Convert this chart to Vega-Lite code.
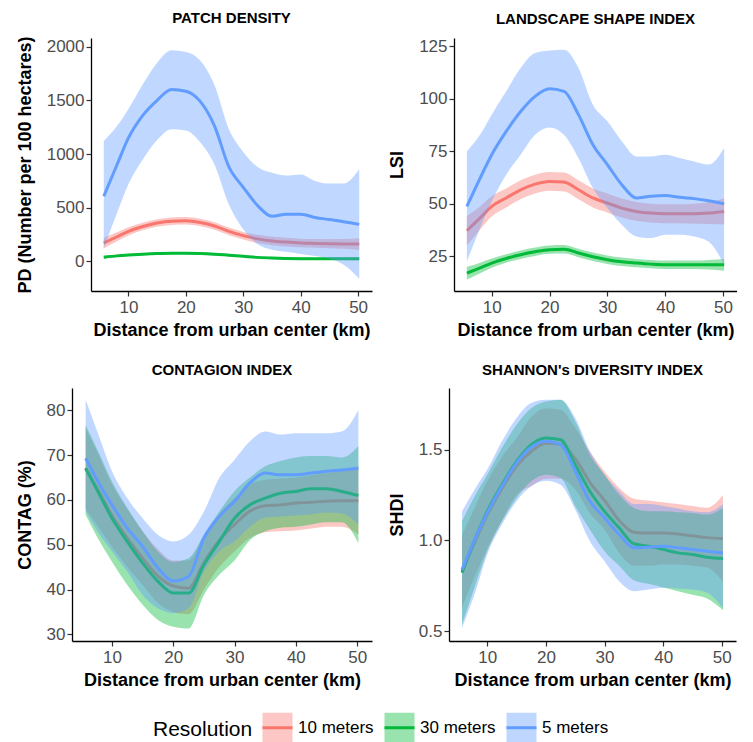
{
"$schema": "https://vega.github.io/schema/vega-lite/v6.json",
"padding": {"left": 0, "top": 10, "right": 0, "bottom": 0},
"config": {
 "view": {"stroke": null},
 "font": "Liberation Sans",
 "axis": {"grid": false, "domainColor": "#000000", "domainWidth": 1.3, "tickColor": "#333333", "tickSize": 5, "tickWidth": 1.2, "labelColor": "#4D4D4D", "labelFontSize": 17, "labelFont": "Liberation Sans", "titleFontSize": 18, "titleFontWeight": "bold", "titleColor": "#000000", "titleFont": "Liberation Sans"},
 "axisX": {"titlePadding": 6, "labelPadding": 3},
 "axisY": {"titlePadding": 12, "labelPadding": 2},
 "title": {"fontSize": 15, "fontWeight": "bold", "color": "#000000", "anchor": "middle", "frame": "group", "offset": 10, "font": "Liberation Sans"}
},
"data": {"values": [
{"p":"PD","r":"10 meters","x":5.7,"y":171,"lo":121,"hi":221},
{"p":"PD","r":"10 meters","x":8,"y":230,"lo":188,"hi":272},
{"p":"PD","r":"10 meters","x":10,"y":280,"lo":242,"hi":318},
{"p":"PD","r":"10 meters","x":12.5,"y":325,"lo":290,"hi":360},
{"p":"PD","r":"10 meters","x":15,"y":358,"lo":323,"hi":393},
{"p":"PD","r":"10 meters","x":17.5,"y":375,"lo":340,"hi":410},
{"p":"PD","r":"10 meters","x":20,"y":378,"lo":343,"hi":413},
{"p":"PD","r":"10 meters","x":22.5,"y":362,"lo":327,"hi":397},
{"p":"PD","r":"10 meters","x":25,"y":330,"lo":295,"hi":365},
{"p":"PD","r":"10 meters","x":27.5,"y":280,"lo":245,"hi":315},
{"p":"PD","r":"10 meters","x":30,"y":240,"lo":205,"hi":275},
{"p":"PD","r":"10 meters","x":32.5,"y":210,"lo":172,"hi":248},
{"p":"PD","r":"10 meters","x":35,"y":190,"lo":150,"hi":230},
{"p":"PD","r":"10 meters","x":37.5,"y":180,"lo":140,"hi":220},
{"p":"PD","r":"10 meters","x":40,"y":172,"lo":132,"hi":212},
{"p":"PD","r":"10 meters","x":42.5,"y":168,"lo":128,"hi":208},
{"p":"PD","r":"10 meters","x":45,"y":165,"lo":123,"hi":207},
{"p":"PD","r":"10 meters","x":47.5,"y":163,"lo":118,"hi":208},
{"p":"PD","r":"10 meters","x":50.2,"y":162,"lo":107,"hi":217},
{"p":"PD","r":"30 meters","x":5.7,"y":40,"lo":26,"hi":54},
{"p":"PD","r":"30 meters","x":8,"y":52,"lo":41,"hi":63},
{"p":"PD","r":"30 meters","x":10,"y":60,"lo":50,"hi":70},
{"p":"PD","r":"30 meters","x":12.5,"y":68,"lo":58,"hi":78},
{"p":"PD","r":"30 meters","x":15,"y":74,"lo":64,"hi":84},
{"p":"PD","r":"30 meters","x":17.5,"y":77,"lo":67,"hi":87},
{"p":"PD","r":"30 meters","x":20,"y":77,"lo":67,"hi":87},
{"p":"PD","r":"30 meters","x":22.5,"y":75,"lo":65,"hi":85},
{"p":"PD","r":"30 meters","x":25,"y":68,"lo":58,"hi":78},
{"p":"PD","r":"30 meters","x":27.5,"y":58,"lo":48,"hi":68},
{"p":"PD","r":"30 meters","x":30,"y":48,"lo":38,"hi":58},
{"p":"PD","r":"30 meters","x":32.5,"y":38,"lo":28,"hi":48},
{"p":"PD","r":"30 meters","x":35,"y":32,"lo":22,"hi":42},
{"p":"PD","r":"30 meters","x":37.5,"y":28,"lo":18,"hi":38},
{"p":"PD","r":"30 meters","x":40,"y":26,"lo":16,"hi":36},
{"p":"PD","r":"30 meters","x":42.5,"y":25,"lo":15,"hi":35},
{"p":"PD","r":"30 meters","x":45,"y":25,"lo":15,"hi":35},
{"p":"PD","r":"30 meters","x":47.5,"y":25,"lo":14,"hi":36},
{"p":"PD","r":"30 meters","x":50.2,"y":25,"lo":11,"hi":39},
{"p":"PD","r":"5 meters","x":5.7,"y":607,"lo":120,"hi":1120},
{"p":"PD","r":"5 meters","x":8,"y":900,"lo":450,"hi":1260},
{"p":"PD","r":"5 meters","x":10,"y":1150,"lo":720,"hi":1420},
{"p":"PD","r":"5 meters","x":12.5,"y":1360,"lo":950,"hi":1650},
{"p":"PD","r":"5 meters","x":15,"y":1500,"lo":1130,"hi":1850},
{"p":"PD","r":"5 meters","x":17.5,"y":1600,"lo":1230,"hi":1965},
{"p":"PD","r":"5 meters","x":20,"y":1585,"lo":1220,"hi":1950},
{"p":"PD","r":"5 meters","x":22.5,"y":1490,"lo":1110,"hi":1870},
{"p":"PD","r":"5 meters","x":25,"y":1260,"lo":900,"hi":1640},
{"p":"PD","r":"5 meters","x":27.5,"y":880,"lo":530,"hi":1230},
{"p":"PD","r":"5 meters","x":30,"y":690,"lo":300,"hi":1020},
{"p":"PD","r":"5 meters","x":32.5,"y":520,"lo":160,"hi":880},
{"p":"PD","r":"5 meters","x":35,"y":420,"lo":110,"hi":825},
{"p":"PD","r":"5 meters","x":37.5,"y":440,"lo":90,"hi":800},
{"p":"PD","r":"5 meters","x":40,"y":440,"lo":70,"hi":810},
{"p":"PD","r":"5 meters","x":42.5,"y":410,"lo":50,"hi":750},
{"p":"PD","r":"5 meters","x":45,"y":390,"lo":25,"hi":725},
{"p":"PD","r":"5 meters","x":47.5,"y":370,"lo":-30,"hi":725},
{"p":"PD","r":"5 meters","x":50.2,"y":345,"lo":-160,"hi":860},
{"p":"LSI","r":"10 meters","x":5.7,"y":37.2,"lo":30.2,"hi":44.2},
{"p":"LSI","r":"10 meters","x":8,"y":43.3,"lo":37.8,"hi":48.8},
{"p":"LSI","r":"10 meters","x":10,"y":48.8,"lo":44,"hi":53.6},
{"p":"LSI","r":"10 meters","x":12.5,"y":52.8,"lo":48.3,"hi":57.3},
{"p":"LSI","r":"10 meters","x":15,"y":56.7,"lo":52.2,"hi":61.2},
{"p":"LSI","r":"10 meters","x":17.5,"y":59.4,"lo":54.9,"hi":63.9},
{"p":"LSI","r":"10 meters","x":20,"y":60.7,"lo":56.2,"hi":65.2},
{"p":"LSI","r":"10 meters","x":22.5,"y":60.4,"lo":55.9,"hi":64.9},
{"p":"LSI","r":"10 meters","x":25,"y":56.7,"lo":52.2,"hi":61.2},
{"p":"LSI","r":"10 meters","x":27.5,"y":52.8,"lo":48.3,"hi":57.3},
{"p":"LSI","r":"10 meters","x":30,"y":50.4,"lo":45.9,"hi":54.9},
{"p":"LSI","r":"10 meters","x":32.5,"y":48,"lo":43.5,"hi":52.5},
{"p":"LSI","r":"10 meters","x":35,"y":46.4,"lo":41.9,"hi":50.9},
{"p":"LSI","r":"10 meters","x":37.5,"y":45.6,"lo":41.1,"hi":50.1},
{"p":"LSI","r":"10 meters","x":40,"y":45.3,"lo":40.8,"hi":49.8},
{"p":"LSI","r":"10 meters","x":42.5,"y":45.3,"lo":40.8,"hi":49.8},
{"p":"LSI","r":"10 meters","x":45,"y":45.3,"lo":40.5,"hi":50.1},
{"p":"LSI","r":"10 meters","x":47.5,"y":45.6,"lo":40.4,"hi":50.8},
{"p":"LSI","r":"10 meters","x":50.2,"y":46.4,"lo":40.2,"hi":52.6},
{"p":"LSI","r":"30 meters","x":5.7,"y":17,"lo":14,"hi":20},
{"p":"LSI","r":"30 meters","x":8,"y":19.5,"lo":17,"hi":22},
{"p":"LSI","r":"30 meters","x":10,"y":21.8,"lo":19.6,"hi":24},
{"p":"LSI","r":"30 meters","x":12.5,"y":24,"lo":22,"hi":26},
{"p":"LSI","r":"30 meters","x":15,"y":25.8,"lo":23.8,"hi":27.8},
{"p":"LSI","r":"30 meters","x":17.5,"y":27.2,"lo":25.2,"hi":29.2},
{"p":"LSI","r":"30 meters","x":20,"y":28.2,"lo":26.2,"hi":30.2},
{"p":"LSI","r":"30 meters","x":22.5,"y":28.4,"lo":26.4,"hi":30.4},
{"p":"LSI","r":"30 meters","x":25,"y":26.6,"lo":24.6,"hi":28.6},
{"p":"LSI","r":"30 meters","x":27.5,"y":24.8,"lo":22.8,"hi":26.8},
{"p":"LSI","r":"30 meters","x":30,"y":23.4,"lo":21.4,"hi":25.4},
{"p":"LSI","r":"30 meters","x":32.5,"y":22.4,"lo":20.4,"hi":24.4},
{"p":"LSI","r":"30 meters","x":35,"y":21.8,"lo":19.8,"hi":23.8},
{"p":"LSI","r":"30 meters","x":37.5,"y":21.3,"lo":19.3,"hi":23.3},
{"p":"LSI","r":"30 meters","x":40,"y":21,"lo":19,"hi":23},
{"p":"LSI","r":"30 meters","x":42.5,"y":21,"lo":19,"hi":23},
{"p":"LSI","r":"30 meters","x":45,"y":21,"lo":19,"hi":23},
{"p":"LSI","r":"30 meters","x":47.5,"y":21,"lo":18.7,"hi":23.3},
{"p":"LSI","r":"30 meters","x":50.2,"y":21,"lo":18.2,"hi":23.8},
{"p":"LSI","r":"5 meters","x":5.7,"y":48.8,"lo":22.6,"hi":75},
{"p":"LSI","r":"5 meters","x":8,"y":62.3,"lo":38.5,"hi":83},
{"p":"LSI","r":"5 meters","x":10,"y":73.4,"lo":51.2,"hi":92.5},
{"p":"LSI","r":"5 meters","x":12.5,"y":84.5,"lo":63.9,"hi":103.6},
{"p":"LSI","r":"5 meters","x":15,"y":94,"lo":73.4,"hi":114.7},
{"p":"LSI","r":"5 meters","x":17.5,"y":101.2,"lo":82.9,"hi":121.8},
{"p":"LSI","r":"5 meters","x":20,"y":104.8,"lo":86.4,"hi":123},
{"p":"LSI","r":"5 meters","x":22.5,"y":103.6,"lo":82.9,"hi":123.4},
{"p":"LSI","r":"5 meters","x":25,"y":92.5,"lo":71.8,"hi":114.7},
{"p":"LSI","r":"5 meters","x":27.5,"y":78.2,"lo":57.5,"hi":97.2},
{"p":"LSI","r":"5 meters","x":30,"y":68.7,"lo":48,"hi":89.3},
{"p":"LSI","r":"5 meters","x":32.5,"y":59.1,"lo":40,"hi":79.8},
{"p":"LSI","r":"5 meters","x":35,"y":52.8,"lo":34.5,"hi":72.6},
{"p":"LSI","r":"5 meters","x":37.5,"y":53.6,"lo":33.7,"hi":72.6},
{"p":"LSI","r":"5 meters","x":40,"y":54,"lo":35.3,"hi":73.4},
{"p":"LSI","r":"5 meters","x":42.5,"y":53.1,"lo":35.3,"hi":71.8},
{"p":"LSI","r":"5 meters","x":45,"y":52.5,"lo":34.5,"hi":70.2},
{"p":"LSI","r":"5 meters","x":47.5,"y":51.5,"lo":32.1,"hi":68.7},
{"p":"LSI","r":"5 meters","x":50.2,"y":50,"lo":21,"hi":76.6},
{"p":"CONTAG","r":"10 meters","x":5.7,"y":67,"lo":58,"hi":76},
{"p":"CONTAG","r":"10 meters","x":8,"y":61.5,"lo":53.5,"hi":69.5},
{"p":"CONTAG","r":"10 meters","x":10,"y":56.5,"lo":49.5,"hi":63.5},
{"p":"CONTAG","r":"10 meters","x":12.5,"y":51.5,"lo":45,"hi":58},
{"p":"CONTAG","r":"10 meters","x":15,"y":47,"lo":41,"hi":53},
{"p":"CONTAG","r":"10 meters","x":17.5,"y":43,"lo":37,"hi":49},
{"p":"CONTAG","r":"10 meters","x":20,"y":40.8,"lo":35,"hi":46.5},
{"p":"CONTAG","r":"10 meters","x":22.5,"y":40.3,"lo":34.5,"hi":46.5},
{"p":"CONTAG","r":"10 meters","x":25,"y":46,"lo":40,"hi":52},
{"p":"CONTAG","r":"10 meters","x":27.5,"y":51,"lo":45,"hi":57},
{"p":"CONTAG","r":"10 meters","x":30,"y":54.5,"lo":48.5,"hi":60.5},
{"p":"CONTAG","r":"10 meters","x":32.5,"y":57.5,"lo":51.5,"hi":63.5},
{"p":"CONTAG","r":"10 meters","x":35,"y":58.7,"lo":52.8,"hi":64.5},
{"p":"CONTAG","r":"10 meters","x":37.5,"y":58.9,"lo":53,"hi":64.8},
{"p":"CONTAG","r":"10 meters","x":40,"y":59.3,"lo":53.2,"hi":65},
{"p":"CONTAG","r":"10 meters","x":42.5,"y":59.5,"lo":53.6,"hi":65.5},
{"p":"CONTAG","r":"10 meters","x":45,"y":59.7,"lo":54,"hi":66},
{"p":"CONTAG","r":"10 meters","x":47.5,"y":59.8,"lo":54,"hi":66.5},
{"p":"CONTAG","r":"10 meters","x":50.2,"y":59.8,"lo":52.3,"hi":67.5},
{"p":"CONTAG","r":"30 meters","x":5.7,"y":67.1,"lo":56.7,"hi":76.8},
{"p":"CONTAG","r":"30 meters","x":8,"y":61.1,"lo":50.7,"hi":70.1},
{"p":"CONTAG","r":"30 meters","x":10,"y":55.9,"lo":46.2,"hi":64.1},
{"p":"CONTAG","r":"30 meters","x":12.5,"y":50.7,"lo":41,"hi":58.2},
{"p":"CONTAG","r":"30 meters","x":15,"y":45.9,"lo":36.6,"hi":53},
{"p":"CONTAG","r":"30 meters","x":17.5,"y":41.8,"lo":33.2,"hi":48.5},
{"p":"CONTAG","r":"30 meters","x":20,"y":39.2,"lo":31.7,"hi":46.2},
{"p":"CONTAG","r":"30 meters","x":22.5,"y":39.2,"lo":31.3,"hi":47},
{"p":"CONTAG","r":"30 meters","x":25,"y":45.5,"lo":38.8,"hi":52.2},
{"p":"CONTAG","r":"30 meters","x":27.5,"y":50.7,"lo":43.3,"hi":57.4},
{"p":"CONTAG","r":"30 meters","x":30,"y":55.9,"lo":46.5,"hi":62},
{"p":"CONTAG","r":"30 meters","x":32.5,"y":58.9,"lo":51,"hi":65},
{"p":"CONTAG","r":"30 meters","x":35,"y":60.4,"lo":53,"hi":67.5},
{"p":"CONTAG","r":"30 meters","x":37.5,"y":61.5,"lo":53.8,"hi":68.7},
{"p":"CONTAG","r":"30 meters","x":40,"y":61.9,"lo":54,"hi":69.5},
{"p":"CONTAG","r":"30 meters","x":42.5,"y":62.5,"lo":54.5,"hi":69.8},
{"p":"CONTAG","r":"30 meters","x":45,"y":62.5,"lo":55,"hi":69.8},
{"p":"CONTAG","r":"30 meters","x":47.5,"y":61.9,"lo":55,"hi":69.5},
{"p":"CONTAG","r":"30 meters","x":50.2,"y":61,"lo":50.3,"hi":72},
{"p":"CONTAG","r":"5 meters","x":5.7,"y":69.3,"lo":57.4,"hi":82.4},
{"p":"CONTAG","r":"5 meters","x":8,"y":63.4,"lo":52.2,"hi":73.8},
{"p":"CONTAG","r":"5 meters","x":10,"y":58.9,"lo":48.5,"hi":66.4},
{"p":"CONTAG","r":"5 meters","x":12.5,"y":53.7,"lo":44,"hi":60.4},
{"p":"CONTAG","r":"5 meters","x":15,"y":49.6,"lo":38.8,"hi":55.9},
{"p":"CONTAG","r":"5 meters","x":17.5,"y":44.8,"lo":35.8,"hi":52.2},
{"p":"CONTAG","r":"5 meters","x":20,"y":41.9,"lo":34.7,"hi":50.7},
{"p":"CONTAG","r":"5 meters","x":22.5,"y":42.9,"lo":35.8,"hi":52.2},
{"p":"CONTAG","r":"5 meters","x":25,"y":51.5,"lo":44,"hi":57.4},
{"p":"CONTAG","r":"5 meters","x":27.5,"y":56.3,"lo":48.5,"hi":64.9},
{"p":"CONTAG","r":"5 meters","x":30,"y":59.7,"lo":50.7,"hi":69},
{"p":"CONTAG","r":"5 meters","x":32.5,"y":63.8,"lo":54,"hi":73.1},
{"p":"CONTAG","r":"5 meters","x":35,"y":66,"lo":56,"hi":75.3},
{"p":"CONTAG","r":"5 meters","x":37.5,"y":65.6,"lo":56.3,"hi":74.6},
{"p":"CONTAG","r":"5 meters","x":40,"y":65.6,"lo":56.5,"hi":74.9},
{"p":"CONTAG","r":"5 meters","x":42.5,"y":66,"lo":56.8,"hi":74.9},
{"p":"CONTAG","r":"5 meters","x":45,"y":66.4,"lo":57.2,"hi":74.9},
{"p":"CONTAG","r":"5 meters","x":47.5,"y":66.7,"lo":57,"hi":75.3},
{"p":"CONTAG","r":"5 meters","x":50.2,"y":67.1,"lo":54.5,"hi":80.1},
{"p":"SHDI","r":"10 meters","x":5.7,"y":0.83,"lo":0.63,"hi":1.03},
{"p":"SHDI","r":"10 meters","x":8,"y":1.0,"lo":0.81,"hi":1.19},
{"p":"SHDI","r":"10 meters","x":10,"y":1.14,"lo":0.955,"hi":1.326},
{"p":"SHDI","r":"10 meters","x":12.5,"y":1.285,"lo":1.11,"hi":1.46},
{"p":"SHDI","r":"10 meters","x":15,"y":1.41,"lo":1.25,"hi":1.564},
{"p":"SHDI","r":"10 meters","x":17.5,"y":1.49,"lo":1.3,"hi":1.68},
{"p":"SHDI","r":"10 meters","x":20,"y":1.535,"lo":1.34,"hi":1.729},
{"p":"SHDI","r":"10 meters","x":22.5,"y":1.53,"lo":1.34,"hi":1.72},
{"p":"SHDI","r":"10 meters","x":25,"y":1.45,"lo":1.28,"hi":1.62},
{"p":"SHDI","r":"10 meters","x":27.5,"y":1.32,"lo":1.15,"hi":1.49},
{"p":"SHDI","r":"10 meters","x":30,"y":1.22,"lo":1.06,"hi":1.38},
{"p":"SHDI","r":"10 meters","x":32.5,"y":1.11,"lo":0.93,"hi":1.289},
{"p":"SHDI","r":"10 meters","x":35,"y":1.045,"lo":0.86,"hi":1.23},
{"p":"SHDI","r":"10 meters","x":37.5,"y":1.04,"lo":0.86,"hi":1.22},
{"p":"SHDI","r":"10 meters","x":40,"y":1.04,"lo":0.867,"hi":1.21},
{"p":"SHDI","r":"10 meters","x":42.5,"y":1.035,"lo":0.867,"hi":1.2},
{"p":"SHDI","r":"10 meters","x":45,"y":1.025,"lo":0.86,"hi":1.19},
{"p":"SHDI","r":"10 meters","x":47.5,"y":1.015,"lo":0.85,"hi":1.18},
{"p":"SHDI","r":"10 meters","x":50.2,"y":1.01,"lo":0.77,"hi":1.25},
{"p":"SHDI","r":"30 meters","x":5.7,"y":0.821,"lo":0.537,"hi":1.105},
{"p":"SHDI","r":"30 meters","x":8,"y":1.014,"lo":0.757,"hi":1.252},
{"p":"SHDI","r":"30 meters","x":10,"y":1.16,"lo":0.94,"hi":1.362},
{"p":"SHDI","r":"30 meters","x":12.5,"y":1.307,"lo":1.105,"hi":1.509},
{"p":"SHDI","r":"30 meters","x":15,"y":1.436,"lo":1.234,"hi":1.638},
{"p":"SHDI","r":"30 meters","x":17.5,"y":1.528,"lo":1.326,"hi":1.729},
{"p":"SHDI","r":"30 meters","x":20,"y":1.564,"lo":1.362,"hi":1.766},
{"p":"SHDI","r":"30 meters","x":22.5,"y":1.555,"lo":1.344,"hi":1.775},
{"p":"SHDI","r":"30 meters","x":25,"y":1.417,"lo":1.19,"hi":1.656},
{"p":"SHDI","r":"30 meters","x":27.5,"y":1.271,"lo":1.06,"hi":1.472},
{"p":"SHDI","r":"30 meters","x":30,"y":1.16,"lo":0.94,"hi":1.362},
{"p":"SHDI","r":"30 meters","x":32.5,"y":1.069,"lo":0.86,"hi":1.252},
{"p":"SHDI","r":"30 meters","x":35,"y":0.981,"lo":0.78,"hi":1.179},
{"p":"SHDI","r":"30 meters","x":37.5,"y":0.968,"lo":0.76,"hi":1.16},
{"p":"SHDI","r":"30 meters","x":40,"y":0.95,"lo":0.74,"hi":1.16},
{"p":"SHDI","r":"30 meters","x":42.5,"y":0.931,"lo":0.72,"hi":1.155},
{"p":"SHDI","r":"30 meters","x":45,"y":0.922,"lo":0.7,"hi":1.151},
{"p":"SHDI","r":"30 meters","x":47.5,"y":0.907,"lo":0.68,"hi":1.142},
{"p":"SHDI","r":"30 meters","x":50.2,"y":0.9,"lo":0.615,"hi":1.179},
{"p":"SHDI","r":"5 meters","x":5.7,"y":0.839,"lo":0.518,"hi":1.16},
{"p":"SHDI","r":"5 meters","x":8,"y":1.014,"lo":0.72,"hi":1.289},
{"p":"SHDI","r":"5 meters","x":10,"y":1.151,"lo":0.922,"hi":1.39},
{"p":"SHDI","r":"5 meters","x":12.5,"y":1.298,"lo":1.087,"hi":1.546},
{"p":"SHDI","r":"5 meters","x":15,"y":1.427,"lo":1.216,"hi":1.674},
{"p":"SHDI","r":"5 meters","x":17.5,"y":1.513,"lo":1.298,"hi":1.757},
{"p":"SHDI","r":"5 meters","x":20,"y":1.546,"lo":1.329,"hi":1.775},
{"p":"SHDI","r":"5 meters","x":22.5,"y":1.528,"lo":1.307,"hi":1.775},
{"p":"SHDI","r":"5 meters","x":25,"y":1.381,"lo":1.17,"hi":1.674},
{"p":"SHDI","r":"5 meters","x":27.5,"y":1.216,"lo":0.995,"hi":1.491},
{"p":"SHDI","r":"5 meters","x":30,"y":1.124,"lo":0.885,"hi":1.362},
{"p":"SHDI","r":"5 meters","x":32.5,"y":1.032,"lo":0.775,"hi":1.271},
{"p":"SHDI","r":"5 meters","x":35,"y":0.959,"lo":0.72,"hi":1.2},
{"p":"SHDI","r":"5 meters","x":37.5,"y":0.962,"lo":0.729,"hi":1.2},
{"p":"SHDI","r":"5 meters","x":40,"y":0.968,"lo":0.739,"hi":1.19},
{"p":"SHDI","r":"5 meters","x":42.5,"y":0.959,"lo":0.735,"hi":1.175},
{"p":"SHDI","r":"5 meters","x":45,"y":0.95,"lo":0.729,"hi":1.16},
{"p":"SHDI","r":"5 meters","x":47.5,"y":0.94,"lo":0.711,"hi":1.155},
{"p":"SHDI","r":"5 meters","x":50.2,"y":0.931,"lo":0.628,"hi":1.2}
]},
"spacing": 24,
"vconcat": [
{"spacing": 0, "hconcat": [
 {"width": 16, "height": 10, "data": {"values": [{"a": 0}]}, "mark": {"type": "point", "opacity": 0}, "encoding": {}},
 {"spacing": 16, "hconcat": [
 {"title": "PATCH DENSITY", "width": 281, "height": 253,
  "transform": [{"filter": "datum.p == 'PD'"}],
  "encoding": {"x": {"field": "x", "type": "quantitative", "scale": {"domain": [3.475, 52.425], "nice": false, "zero": false}, "axis": {"values": [10, 20, 30, 40, 50], "title": "Distance from urban center (km)"}}},
  "layer": [
   {"transform": [{"filter": "datum.r == '10 meters'"}], "mark": {"type": "area", "opacity": 0.4, "interpolate": "monotone"}, "encoding": {"y": {"field": "lo", "type": "quantitative", "scale": {"domain": [-275, 2080], "nice": false, "zero": false}, "axis": {"title": "PD (Number per 100 hectares)", "values": [0, 500, 1000, 1500, 2000], "format": "d"}}, "y2": {"field": "hi"}, "fill": {"field": "r", "type": "nominal", "title": "Resolution", "scale": {"domain": ["10 meters", "30 meters", "5 meters"], "range": ["#F8766D", "#00BA38", "#619CFF"]}, "legend": {"orient": "none", "direction": "horizontal", "legendX": 153, "legendY": 673, "symbolType": "square", "symbolSize": 900, "symbolOpacity": 0.4, "symbolStrokeWidth": 3, "symbolStrokeColor": "transparent", "titleOrient": "left", "titleFontSize": 21, "titleFontWeight": "normal", "titleColor": "#000000", "titlePadding": 8, "labelFontSize": 17, "labelColor": "#000000", "labelOffset": 4, "columnPadding": 4}}}},
   {"transform": [{"filter": "datum.r == '10 meters'"}], "mark": {"type": "line", "strokeWidth": 3, "interpolate": "monotone"}, "encoding": {"y": {"field": "y", "type": "quantitative", "scale": {"domain": [-275, 2080], "nice": false, "zero": false}, "axis": {"title": "PD (Number per 100 hectares)", "values": [0, 500, 1000, 1500, 2000], "format": "d"}}, "stroke": {"field": "r", "type": "nominal", "title": "Resolution", "scale": {"range": ["#F8766D", "#00BA38", "#619CFF"]}, "legend": {"orient": "none", "direction": "horizontal", "legendX": 153, "legendY": 673, "symbolType": "stroke", "symbolSize": 900, "symbolStrokeWidth": 3, "titleOrient": "left", "titleFontSize": 21, "titleFontWeight": "normal", "titleOpacity": 0, "titlePadding": 8, "labelFontSize": 17, "labelOpacity": 0, "labelOffset": 4, "columnPadding": 4}}}},
   {"transform": [{"filter": "datum.r == '30 meters'"}], "mark": {"type": "area", "opacity": 0.4, "interpolate": "monotone"}, "encoding": {"y": {"field": "lo", "type": "quantitative"}, "y2": {"field": "hi"}, "fill": {"field": "r", "type": "nominal"}}},
   {"transform": [{"filter": "datum.r == '30 meters'"}], "mark": {"type": "line", "strokeWidth": 3, "interpolate": "monotone"}, "encoding": {"y": {"field": "y", "type": "quantitative"}, "stroke": {"field": "r", "type": "nominal"}}},
   {"transform": [{"filter": "datum.r == '5 meters'"}], "mark": {"type": "area", "opacity": 0.4, "interpolate": "monotone"}, "encoding": {"y": {"field": "lo", "type": "quantitative"}, "y2": {"field": "hi"}, "fill": {"field": "r", "type": "nominal"}}},
   {"transform": [{"filter": "datum.r == '5 meters'"}], "mark": {"type": "line", "strokeWidth": 3, "interpolate": "monotone"}, "encoding": {"y": {"field": "y", "type": "quantitative"}, "stroke": {"field": "r", "type": "nominal"}}}
  ]},
 {"title": "LANDSCAPE SHAPE INDEX", "width": 283, "height": 253,
  "transform": [{"filter": "datum.p == 'LSI'"}],
  "encoding": {"x": {"field": "x", "type": "quantitative", "scale": {"domain": [3.475, 52.425], "nice": false, "zero": false}, "axis": {"values": [10, 20, 30, 40, 50], "title": "Distance from urban center (km)"}}},
  "layer": [
   {"transform": [{"filter": "datum.r == '10 meters'"}], "mark": {"type": "area", "opacity": 0.4, "interpolate": "monotone"}, "encoding": {"y": {"field": "lo", "type": "quantitative", "scale": {"domain": [8.5, 129], "nice": false, "zero": false}, "axis": {"title": "LSI", "values": [25, 50, 75, 100, 125]}}, "y2": {"field": "hi"}, "fill": {"field": "r", "type": "nominal"}}},
   {"transform": [{"filter": "datum.r == '10 meters'"}], "mark": {"type": "line", "strokeWidth": 3, "interpolate": "monotone"}, "encoding": {"y": {"field": "y", "type": "quantitative", "scale": {"domain": [8.5, 129], "nice": false, "zero": false}, "axis": {"title": "LSI", "values": [25, 50, 75, 100, 125]}}, "stroke": {"field": "r", "type": "nominal"}}},
   {"transform": [{"filter": "datum.r == '30 meters'"}], "mark": {"type": "area", "opacity": 0.4, "interpolate": "monotone"}, "encoding": {"y": {"field": "lo", "type": "quantitative"}, "y2": {"field": "hi"}, "fill": {"field": "r", "type": "nominal"}}},
   {"transform": [{"filter": "datum.r == '30 meters'"}], "mark": {"type": "line", "strokeWidth": 3, "interpolate": "monotone"}, "encoding": {"y": {"field": "y", "type": "quantitative"}, "stroke": {"field": "r", "type": "nominal"}}},
   {"transform": [{"filter": "datum.r == '5 meters'"}], "mark": {"type": "area", "opacity": 0.4, "interpolate": "monotone"}, "encoding": {"y": {"field": "lo", "type": "quantitative"}, "y2": {"field": "hi"}, "fill": {"field": "r", "type": "nominal"}}},
   {"transform": [{"filter": "datum.r == '5 meters'"}], "mark": {"type": "line", "strokeWidth": 3, "interpolate": "monotone"}, "encoding": {"y": {"field": "y", "type": "quantitative"}, "stroke": {"field": "r", "type": "nominal"}}}
  ]}
 ]}
]},
{"spacing": 0, "hconcat": [
 {"width": 16, "height": 10, "data": {"values": [{"a": 0}]}, "mark": {"type": "point", "opacity": 0}, "encoding": {}},
 {"spacing": 16, "hconcat": [
 {"title": "CONTAGION INDEX", "width": 300, "height": 253,
  "transform": [{"filter": "datum.p == 'CONTAG'"}],
  "encoding": {"x": {"field": "x", "type": "quantitative", "scale": {"domain": [3.475, 52.425], "nice": false, "zero": false}, "axis": {"values": [10, 20, 30, 40, 50], "title": "Distance from urban center (km)"}}},
  "layer": [
   {"transform": [{"filter": "datum.r == '10 meters'"}], "mark": {"type": "area", "opacity": 0.4, "interpolate": "monotone"}, "encoding": {"y": {"field": "lo", "type": "quantitative", "scale": {"domain": [28.5, 85], "nice": false, "zero": false}, "axis": {"title": "CONTAG (%)", "values": [30, 40, 50, 60, 70, 80]}}, "y2": {"field": "hi"}, "fill": {"field": "r", "type": "nominal"}}},
   {"transform": [{"filter": "datum.r == '10 meters'"}], "mark": {"type": "line", "strokeWidth": 3, "interpolate": "monotone"}, "encoding": {"y": {"field": "y", "type": "quantitative", "scale": {"domain": [28.5, 85], "nice": false, "zero": false}, "axis": {"title": "CONTAG (%)", "values": [30, 40, 50, 60, 70, 80]}}, "stroke": {"field": "r", "type": "nominal"}}},
   {"transform": [{"filter": "datum.r == '30 meters'"}], "mark": {"type": "area", "opacity": 0.4, "interpolate": "monotone"}, "encoding": {"y": {"field": "lo", "type": "quantitative"}, "y2": {"field": "hi"}, "fill": {"field": "r", "type": "nominal"}}},
   {"transform": [{"filter": "datum.r == '30 meters'"}], "mark": {"type": "line", "strokeWidth": 3, "interpolate": "monotone"}, "encoding": {"y": {"field": "y", "type": "quantitative"}, "stroke": {"field": "r", "type": "nominal"}}},
   {"transform": [{"filter": "datum.r == '5 meters'"}], "mark": {"type": "area", "opacity": 0.4, "interpolate": "monotone"}, "encoding": {"y": {"field": "lo", "type": "quantitative"}, "y2": {"field": "hi"}, "fill": {"field": "r", "type": "nominal"}}},
   {"transform": [{"filter": "datum.r == '5 meters'"}], "mark": {"type": "line", "strokeWidth": 3, "interpolate": "monotone"}, "encoding": {"y": {"field": "y", "type": "quantitative"}, "stroke": {"field": "r", "type": "nominal"}}}
  ]},
 {"title": "SHANNON's DIVERSITY INDEX", "width": 287, "height": 253,
  "transform": [{"filter": "datum.p == 'SHDI'"}],
  "encoding": {"x": {"field": "x", "type": "quantitative", "scale": {"domain": [3.475, 52.425], "nice": false, "zero": false}, "axis": {"values": [10, 20, 30, 40, 50], "title": "Distance from urban center (km)"}}},
  "layer": [
   {"transform": [{"filter": "datum.r == '10 meters'"}], "mark": {"type": "area", "opacity": 0.4, "interpolate": "monotone"}, "encoding": {"y": {"field": "lo", "type": "quantitative", "scale": {"domain": [0.445, 1.84], "nice": false, "zero": false}, "axis": {"title": "SHDI", "values": [0.5, 1.0, 1.5], "format": ".1f"}}, "y2": {"field": "hi"}, "fill": {"field": "r", "type": "nominal"}}},
   {"transform": [{"filter": "datum.r == '10 meters'"}], "mark": {"type": "line", "strokeWidth": 3, "interpolate": "monotone"}, "encoding": {"y": {"field": "y", "type": "quantitative", "scale": {"domain": [0.445, 1.84], "nice": false, "zero": false}, "axis": {"title": "SHDI", "values": [0.5, 1.0, 1.5], "format": ".1f"}}, "stroke": {"field": "r", "type": "nominal"}}},
   {"transform": [{"filter": "datum.r == '30 meters'"}], "mark": {"type": "area", "opacity": 0.4, "interpolate": "monotone"}, "encoding": {"y": {"field": "lo", "type": "quantitative"}, "y2": {"field": "hi"}, "fill": {"field": "r", "type": "nominal"}}},
   {"transform": [{"filter": "datum.r == '30 meters'"}], "mark": {"type": "line", "strokeWidth": 3, "interpolate": "monotone"}, "encoding": {"y": {"field": "y", "type": "quantitative"}, "stroke": {"field": "r", "type": "nominal"}}},
   {"transform": [{"filter": "datum.r == '5 meters'"}], "mark": {"type": "area", "opacity": 0.4, "interpolate": "monotone"}, "encoding": {"y": {"field": "lo", "type": "quantitative"}, "y2": {"field": "hi"}, "fill": {"field": "r", "type": "nominal"}}},
   {"transform": [{"filter": "datum.r == '5 meters'"}], "mark": {"type": "line", "strokeWidth": 3, "interpolate": "monotone"}, "encoding": {"y": {"field": "y", "type": "quantitative"}, "stroke": {"field": "r", "type": "nominal"}}}
  ]}
 ]}
]}
]
}
